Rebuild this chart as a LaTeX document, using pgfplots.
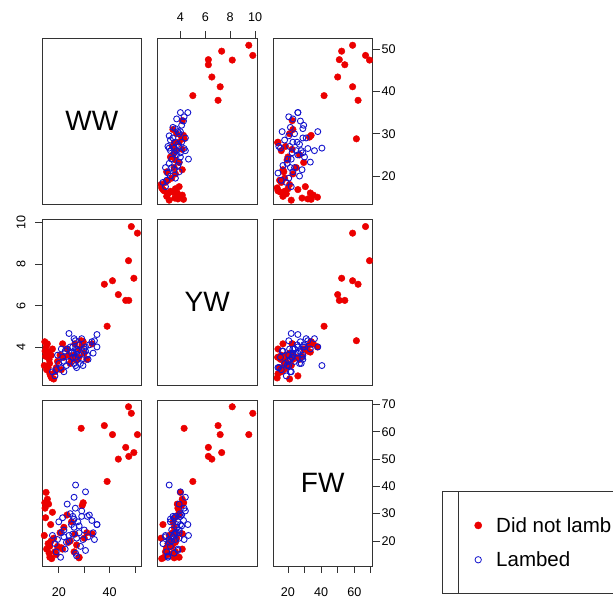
\documentclass[border=0pt]{standalone}
\usepackage{fontspec}
\setmainfont{Liberation Sans}
\usepackage{pgfplots}
\usepackage{pgfplotstable}
\pgfplotsset{compat=1.18}

% ewes that did not lamb: weaning weight, yearling weight, fleece weight
\pgfplotstableread{
ww yw fw
47.4 8.17 69.2
48.5 9.82 66.8
28.8 4.30 61.3
37.9 7.03 62.3
41.1 7.20 59.0
50.9 9.50 59.0
46.3 6.25 54.3
49.5 7.32 52.4
47.5 6.25 51.0
43.4 6.53 50.0
39.0 5.00 41.8
14.5 4.25 34.0
15.0 4.00 37.8
14.6 3.80 32.0
15.5 4.15 35.3
16.0 3.75 33.5
14.3 3.10 22.0
15.2 2.90 17.0
16.5 2.70 14.0
17.2 2.50 13.5
15.8 3.00 19.0
17.0 3.60 20.0
16.2 3.40 15.5
18.0 2.45 21.0
17.5 3.90 30.5
16.8 2.60 26.0
18.5 2.80 16.0
19.5 3.30 18.0
20.5 3.60 23.0
21.5 4.15 17.0
22.0 3.50 25.0
23.2 3.90 29.5
24.5 3.20 20.0
25.0 3.40 27.0
26.3 4.15 22.5
27.0 3.35 18.5
28.0 3.90 14.0
27.9 3.50 13.8
29.6 4.25 34.0
29.2 4.10 33.0
30.0 3.70 21.0
33.1 4.15 22.6
31.0 3.40 23.0
23.8 3.60 19.5
19.0 3.00 15.0
21.0 2.90 17.5
26.0 3.60 16.0
14.8 3.55 28.5
16.4 3.20 18.0
}\notlambed

% ewes that lambed
\pgfplotstableread{
ww yw fw
24.0 4.65 22.0
35.0 4.60 26.0
26.6 3.10 40.5
26.0 4.40 36.0
30.5 4.00 38.0
23.3 3.90 33.5
31.2 3.60 29.0
35.0 4.00 26.0
26.6 3.50 15.5
20.7 3.00 14.0
18.5 2.60 19.0
19.0 2.90 16.0
22.0 3.30 24.0
25.0 3.70 26.0
27.5 3.80 27.0
28.0 3.60 23.0
29.0 3.40 29.0
27.0 3.90 21.0
26.0 3.70 25.0
25.5 3.50 22.5
24.0 3.30 20.0
30.0 3.90 24.0
32.0 4.10 29.5
33.0 4.25 27.5
20.0 3.20 27.0
21.5 3.50 28.5
22.5 3.80 17.0
23.0 3.10 19.5
28.5 3.20 18.0
29.5 3.10 20.5
31.5 3.40 21.5
24.5 4.00 30.0
17.5 2.80 22.0
19.5 3.60 20.5
26.5 4.30 32.0
28.0 4.10 25.5
30.5 3.80 16.5
27.0 3.00 14.5
21.0 3.90 23.0
25.5 4.00 29.0
29.0 4.40 31.0
33.5 3.70 23.0
22.0 2.80 21.5
26.0 3.20 28.0
34.0 4.30 20.5
}\lambed

\definecolor{dotred}{RGB}{235,0,0}
\definecolor{ringblue}{RGB}{20,20,205}

\pgfplotsset{
  panel/.style={scale only axis, width=99.5pt, height=165.5pt, anchor=south west,
    axis line style={black!80, line width=0.8pt},
    xtick=\empty, ytick=\empty,
    tick align=outside, major tick length=7pt,
    tick style={black!80, line width=0.7pt},
    /pgf/number format/assume math mode=true,
    ticklabel style={font=\fontsize{12.6}{15}\selectfont}},
  wwx/.style={xmin=13.4, xmax=52.5}, wwy/.style={ymin=13.4, ymax=52.5},
  ywx/.style={xmin=2.16, xmax=10.16}, ywy/.style={ymin=2.16, ymax=10.16},
  fwx/.style={xmin=11, xmax=71}, fwy/.style={ymin=10.8, ymax=71.5},
}
\newcommand{\pts}[2]{%
  \addplot[only marks, mark=*, mark size=3.3pt, color=dotred, mark options={draw=dotred, fill=dotred}] table[x=#1, y=#2]{\notlambed};
  \addplot[only marks, mark=o, mark size=3pt, color=ringblue, mark options={line width=0.9pt}] table[x=#1, y=#2]{\lambed};
}
\newcommand{\diaglabel}[1]{\node at (axis description cs:0.5,0.5) {\fontsize{28}{30}\selectfont #1};}

\begin{document}
\begin{tikzpicture}
\useasboundingbox (0,0) rectangle (613pt,599pt);

% row 1: WW
\begin{axis}[panel, at={(42pt,395pt)}, xmin=0, xmax=1, ymin=0, ymax=1]
  \diaglabel{WW}
\end{axis}
\begin{axis}[panel, at={(157.5pt,395pt)}, ywx, wwy,
  xtick={4,6,8,10}, xtick pos=top, xticklabel pos=top,
  xticklabel style={yshift=6.5pt}]
  \pts{yw}{ww}
\end{axis}
\begin{axis}[panel, at={(273pt,395pt)}, fwx, wwy,
  ytick={20,30,40,50}, ytick pos=right, yticklabel pos=right,
  yticklabel style={anchor=west, xshift=-1.5pt}]
  \pts{fw}{ww}
\end{axis}

% row 2: YW
\begin{axis}[panel, at={(42pt,214pt)}, wwx, ywy,
  ytick={4,6,8,10}, ytick pos=left, yticklabel pos=left,
  yticklabel style={rotate=90, anchor=south, yshift=6pt}]
  \pts{ww}{yw}
\end{axis}
\begin{axis}[panel, at={(157.5pt,214pt)}, xmin=0, xmax=1, ymin=0, ymax=1]
  \diaglabel{YW}
\end{axis}
\begin{axis}[panel, at={(273pt,214pt)}, fwx, ywy]
  \pts{fw}{yw}
\end{axis}

% row 3: FW
\begin{axis}[panel, at={(42pt,33pt)}, wwx, fwy,
  xtick={20,30,40,50}, xticklabels={20,,40,}, xtick pos=bottom, xticklabel pos=bottom,
  xticklabel style={yshift=-11pt}]
  \pts{ww}{fw}
\end{axis}
\begin{axis}[panel, at={(157.5pt,33pt)}, ywx, fwy]
  \pts{yw}{fw}
\end{axis}
\begin{axis}[panel, at={(273pt,33pt)}, fwx, fwy,
  xtick={20,30,40,50,60,70}, xticklabels={20,,40,,60,}, xtick pos=bottom, xticklabel pos=bottom,
  xticklabel style={yshift=-11pt},
  ytick={20,30,40,50,60,70}, ytick pos=right, yticklabel pos=right,
  yticklabel style={anchor=west, xshift=-1.5pt},
  legend image code/.code={\draw[#1] plot coordinates {(0pt,0pt)}; \path[draw=none, fill=none] (-4pt,0pt) -- (16pt,0pt);},
  legend style={at={(axis description cs:1.99,0.32)}, anchor=north west, draw=none, fill=none,
    font=\fontsize{20.5}{23}\selectfont, row sep=14pt},
  legend cell align=left]
  \addlegendimage{only marks, mark=*, mark size=3.6pt, color=dotred, mark options={draw=dotred, fill=dotred}}
  \addlegendentry{Did not lamb}
  \addlegendimage{only marks, mark=o, mark size=3.2pt, color=ringblue, mark options={line width=0.8pt}}
  \addlegendentry{Lambed}
  \diaglabel{FW}
\end{axis}

% legend frame
\draw[black!80, line width=0.8pt] (442pt,6pt) rectangle (660pt,108pt);
\draw[black!80, line width=0.8pt] (458pt,6pt) -- (458pt,108pt);
\end{tikzpicture}
\end{document}
